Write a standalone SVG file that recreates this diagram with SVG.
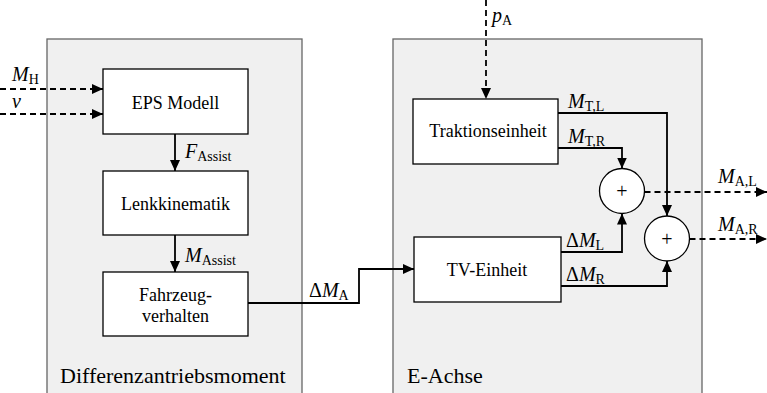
<svg xmlns="http://www.w3.org/2000/svg" width="767" height="393" viewBox="0 0 767 393" font-family="Liberation Serif, Times New Roman, serif">
<defs>
<marker id="ah" markerUnits="userSpaceOnUse" markerWidth="11" markerHeight="10" refX="11" refY="5" orient="auto">
<path d="M0,0 L11,5 L0,10 z" fill="#000"/>
</marker>
<style>
.panel{fill:#f0f0f0;stroke:#666;stroke-width:1.3}
.box{fill:#fff;stroke:#000;stroke-width:1.3}
.sum{fill:#fff;stroke:#000;stroke-width:1.3}
.c{fill:none;stroke:#000;stroke-width:1.8}
.d{fill:none;stroke:#000;stroke-width:1.8;stroke-dasharray:6 4}
</style>
</defs>
<g id="panel-diff">
<rect class="panel" x="47" y="39" width="255" height="370"/>
<text font-size="22" x="60" y="383">Differenzantriebsmoment</text>
</g>
<g id="panel-eachse">
<rect class="panel" x="393" y="39" width="309" height="370"/>
<text font-size="22" x="407" y="383">E-Achse</text>
</g>
<g id="eps">
<rect class="box" x="103" y="69" width="145" height="65"/>
<text text-anchor="middle" font-size="18" x="175.5" y="109">EPS Modell</text>
</g>
<g id="lenk">
<rect class="box" x="103" y="171" width="145" height="64"/>
<text text-anchor="middle" font-size="18" x="175.5" y="210">Lenkkinematik</text>
</g>
<g id="fahrzeug">
<rect class="box" x="103" y="272" width="145" height="64"/>
<text text-anchor="middle" font-size="18" x="175.5" y="301">Fahrzeug-</text>
<text text-anchor="middle" font-size="18" x="175.5" y="322">verhalten</text>
</g>
<g id="traktion">
<rect class="box" x="413" y="99" width="145" height="65"/>
<text text-anchor="middle" font-size="18" x="488" y="137">Traktionseinheit</text>
</g>
<g id="tv">
<rect class="box" x="414" y="237" width="147" height="65"/>
<text text-anchor="middle" font-size="18" x="487" y="276">TV-Einheit</text>
</g>
<g id="sum1">
<circle class="sum" cx="622" cy="191" r="22.5"/>
<text text-anchor="middle" font-size="20" x="622" y="198">+</text>
</g>
<g id="sum2">
<circle class="sum" cx="667" cy="238.5" r="22.5"/>
<text text-anchor="middle" font-size="20" x="667" y="245.5">+</text>
</g>
<g id="connectors">
<path class="d" d="M0,89 H103" marker-end="url(#ah)"/>
<path class="d" d="M0,114 H103" marker-end="url(#ah)"/>
<path class="c" d="M175,134 V171" marker-end="url(#ah)"/>
<path class="c" d="M175,235 V272" marker-end="url(#ah)"/>
<path class="c" d="M248,303 H359 V269 H414" marker-end="url(#ah)"/>
<path class="d" d="M486,0 V99" marker-end="url(#ah)"/>
<path class="c" d="M558,113 H667 V216" marker-end="url(#ah)"/>
<path class="c" d="M558,148 H622 V168.5" marker-end="url(#ah)"/>
<path class="c" d="M561,252 H622 V213.5" marker-end="url(#ah)"/>
<path class="c" d="M561,286 H667 V261" marker-end="url(#ah)"/>
<path class="d" d="M644.5,192 H767" marker-end="url(#ah)"/>
<path class="d" d="M689.5,239 H767" marker-end="url(#ah)"/>
<text font-style="italic" font-size="20" x="12" y="81">M<tspan font-style="normal" font-size="14" dy="3">H</tspan></text>
<text font-style="italic" font-size="20" x="12" y="108">v</text>
<text font-style="italic" font-size="20" x="185" y="158">F<tspan font-style="normal" font-size="14" dy="3">Assist</tspan></text>
<text font-style="italic" font-size="20" x="185" y="262">M<tspan font-style="normal" font-size="14" dy="3">Assist</tspan></text>
<text font-style="italic" font-size="20" x="309" y="297"><tspan font-style="normal">Δ</tspan>M<tspan font-style="normal" font-size="14" dy="3">A</tspan></text>
<text font-style="italic" font-size="20" x="492" y="22">p<tspan font-style="normal" font-size="14" dy="3">A</tspan></text>
<text font-style="italic" font-size="20" x="568" y="108">M<tspan font-style="normal" font-size="14" dy="3">T,L</tspan></text>
<text font-style="italic" font-size="20" x="568" y="143">M<tspan font-style="normal" font-size="14" dy="3">T,R</tspan></text>
<text font-style="italic" font-size="20" x="566" y="247"><tspan font-style="normal">Δ</tspan>M<tspan font-style="normal" font-size="14" dy="3">L</tspan></text>
<text font-style="italic" font-size="20" x="566" y="281"><tspan font-style="normal">Δ</tspan>M<tspan font-style="normal" font-size="14" dy="3">R</tspan></text>
<text font-style="italic" font-size="20" x="718" y="183">M<tspan font-style="normal" font-size="14" dy="3">A,L</tspan></text>
<text font-style="italic" font-size="20" x="718" y="231">M<tspan font-style="normal" font-size="14" dy="3">A,R</tspan></text>
</g>
</svg>
